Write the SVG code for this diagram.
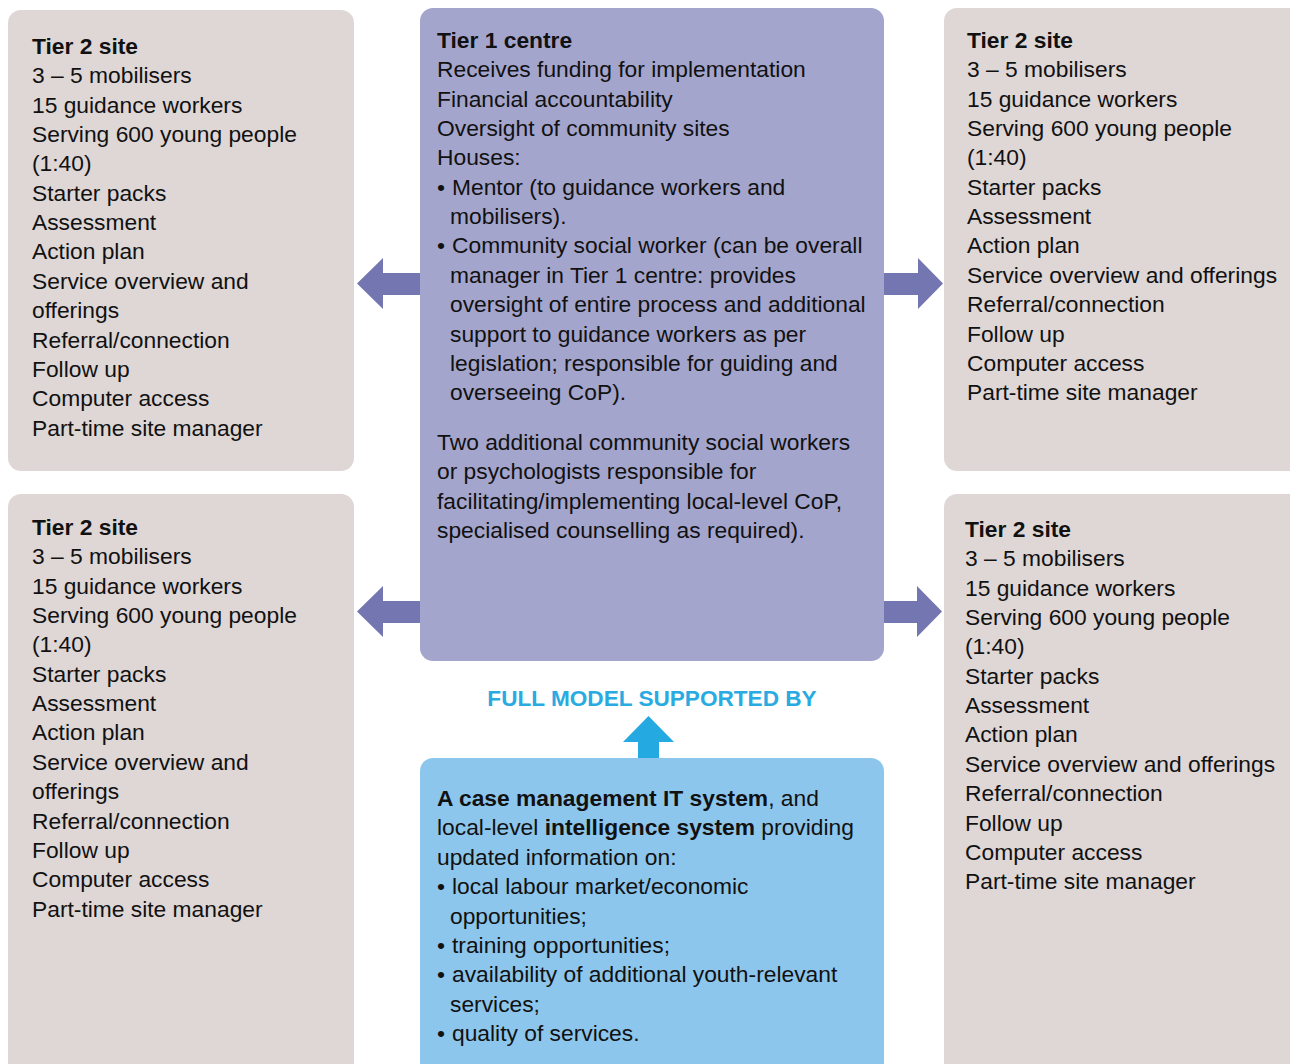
<svg xmlns="http://www.w3.org/2000/svg" width="1290" height="1064" viewBox="0 0 1290 1064">
<style>
.site{fill:#ded7d6}
.t1{fill:#a4a5cd}
.it{fill:#8dc6ec}
.arr{fill:#7376b1}
.up{fill:#25a9e1}
text{font-family:"Liberation Sans",Arial,Helvetica,sans-serif;font-size:22.8px;fill:#111}
.b{font-weight:bold}
.hd{font-weight:bold;fill:#29abe2;font-size:22.6px}
</style>
<rect width="1290" height="1064" fill="#fff"/>
<g id="connectors">
<polygon class="arr" points="420,273 383,273 383,258 357,283.5 383,309 383,295 420,295"/>
<polygon class="arr" points="884,273 918,273 918,258 943,283.5 918,309 918,295 884,295"/>
<polygon class="arr" points="420,601 383,601 383,586 357,611.5 383,637 383,623 420,623"/>
<polygon class="arr" points="884,601 917,601 917,586 942,611.5 917,637 917,623 884,623"/>
<polygon class="up" points="638,758 638,742 623,742 648.5,716 674,742 659,742 659,758"/>
</g>
<g id="tier2-top-left">
<rect class="site" x="8" y="10" width="346" height="461" rx="13"/>
<text x="32" y="54"><tspan class="b">Tier 2 site</tspan><tspan x="32" dy="29.35">3 – 5 mobilisers</tspan><tspan x="32" dy="29.35">15 guidance workers</tspan><tspan x="32" dy="29.35">Serving 600 young people</tspan><tspan x="32" dy="29.35">(1:40)</tspan><tspan x="32" dy="29.35">Starter packs</tspan><tspan x="32" dy="29.35">Assessment</tspan><tspan x="32" dy="29.35">Action plan</tspan><tspan x="32" dy="29.35">Service overview and</tspan><tspan x="32" dy="29.35">offerings</tspan><tspan x="32" dy="29.35">Referral/connection</tspan><tspan x="32" dy="29.35">Follow up</tspan><tspan x="32" dy="29.35">Computer access</tspan><tspan x="32" dy="29.35">Part-time site manager</tspan></text>
</g>
<g id="tier2-bottom-left">
<rect class="site" x="8" y="494" width="346" height="590" rx="13"/>
<text x="32" y="535"><tspan class="b">Tier 2 site</tspan><tspan x="32" dy="29.35">3 – 5 mobilisers</tspan><tspan x="32" dy="29.35">15 guidance workers</tspan><tspan x="32" dy="29.35">Serving 600 young people</tspan><tspan x="32" dy="29.35">(1:40)</tspan><tspan x="32" dy="29.35">Starter packs</tspan><tspan x="32" dy="29.35">Assessment</tspan><tspan x="32" dy="29.35">Action plan</tspan><tspan x="32" dy="29.35">Service overview and</tspan><tspan x="32" dy="29.35">offerings</tspan><tspan x="32" dy="29.35">Referral/connection</tspan><tspan x="32" dy="29.35">Follow up</tspan><tspan x="32" dy="29.35">Computer access</tspan><tspan x="32" dy="29.35">Part-time site manager</tspan></text>
</g>
<g id="tier2-top-right">
<rect class="site" x="944" y="8" width="360" height="463" rx="13"/>
<text x="967" y="48"><tspan class="b">Tier 2 site</tspan><tspan x="967" dy="29.35">3 – 5 mobilisers</tspan><tspan x="967" dy="29.35">15 guidance workers</tspan><tspan x="967" dy="29.35">Serving 600 young people</tspan><tspan x="967" dy="29.35">(1:40)</tspan><tspan x="967" dy="29.35">Starter packs</tspan><tspan x="967" dy="29.35">Assessment</tspan><tspan x="967" dy="29.35">Action plan</tspan><tspan x="967" dy="29.35">Service overview and offerings</tspan><tspan x="967" dy="29.35">Referral/connection</tspan><tspan x="967" dy="29.35">Follow up</tspan><tspan x="967" dy="29.35">Computer access</tspan><tspan x="967" dy="29.35">Part-time site manager</tspan></text>
</g>
<g id="tier2-bottom-right">
<rect class="site" x="944" y="494" width="360" height="590" rx="13"/>
<text x="965" y="537"><tspan class="b">Tier 2 site</tspan><tspan x="965" dy="29.35">3 – 5 mobilisers</tspan><tspan x="965" dy="29.35">15 guidance workers</tspan><tspan x="965" dy="29.35">Serving 600 young people</tspan><tspan x="965" dy="29.35">(1:40)</tspan><tspan x="965" dy="29.35">Starter packs</tspan><tspan x="965" dy="29.35">Assessment</tspan><tspan x="965" dy="29.35">Action plan</tspan><tspan x="965" dy="29.35">Service overview and offerings</tspan><tspan x="965" dy="29.35">Referral/connection</tspan><tspan x="965" dy="29.35">Follow up</tspan><tspan x="965" dy="29.35">Computer access</tspan><tspan x="965" dy="29.35">Part-time site manager</tspan></text>
</g>
<g id="tier1-centre">
<rect class="t1" x="420" y="8" width="464" height="653" rx="13"/>
<text x="437" y="48"><tspan class="b">Tier 1 centre</tspan><tspan x="437" dy="29.35">Receives funding for implementation</tspan><tspan x="437" dy="29.35">Financial accountability</tspan><tspan x="437" dy="29.35">Oversight of community sites</tspan><tspan x="437" dy="29.35">Houses:</tspan><tspan x="437" dy="29.35">•</tspan><tspan x="452">Mentor (to guidance workers and</tspan><tspan x="450" dy="29.35">mobilisers).</tspan><tspan x="437" dy="29.35">•</tspan><tspan x="452">Community social worker (can be overall</tspan><tspan x="450" dy="29.35">manager in Tier 1 centre: provides</tspan><tspan x="450" dy="29.35">oversight of entire process and additional</tspan><tspan x="450" dy="29.35">support to guidance workers as per</tspan><tspan x="450" dy="29.35">legislation; responsible for guiding and</tspan><tspan x="450" dy="29.35">overseeing CoP).</tspan></text>
<text x="437" y="450"><tspan>Two additional community social workers</tspan><tspan x="437" dy="29.35">or psychologists responsible for</tspan><tspan x="437" dy="29.35">facilitating/implementing local-level CoP,</tspan><tspan x="437" dy="29.35">specialised counselling as required).</tspan></text>
</g>
<g id="full-model-label">
<text class="hd" x="652" y="706" text-anchor="middle">FULL MODEL SUPPORTED BY</text>
</g>
<g id="it-system">
<rect class="it" x="420" y="758" width="464" height="326" rx="13"/>
<text x="437" y="806"><tspan class="b">A case management IT system</tspan><tspan>, and</tspan><tspan x="437" dy="29.4">local-level </tspan><tspan class="b">intelligence system</tspan><tspan> providing</tspan><tspan x="437" dy="29.4">updated information on:</tspan><tspan x="437" dy="29.4">•</tspan><tspan x="452">local labour market/economic</tspan><tspan x="450" dy="29.4">opportunities;</tspan><tspan x="437" dy="29.4">•</tspan><tspan x="452">training opportunities;</tspan><tspan x="437" dy="29.4">•</tspan><tspan x="452">availability of additional youth-relevant</tspan><tspan x="450" dy="29.4">services;</tspan><tspan x="437" dy="29.4">•</tspan><tspan x="452">quality of services.</tspan></text>
</g>
</svg>
